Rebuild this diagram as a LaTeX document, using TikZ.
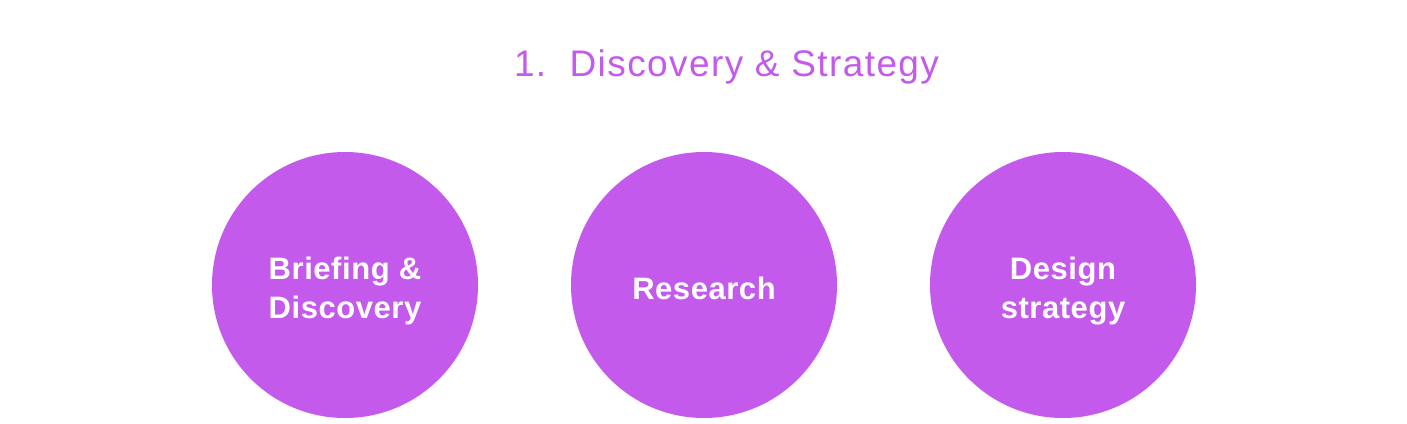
\documentclass[tikz,border=0pt]{standalone}
\usepackage{fontspec}
\setmainfont{Liberation Sans}
\newfontfamily\headfont[LetterSpace=3.8]{Liberation Sans}
\newfontfamily\stagefont[LetterSpace=1.8,BoldFont={Liberation Sans Bold}]{Liberation Sans}
\definecolor{purp}{HTML}{C45AEC}
\begin{document}
\begin{tikzpicture}[x=1pt,y=-1pt,
  stage/.style={circle,fill=purp,minimum size=266pt,inner sep=0pt},
  stagetext/.style={text=white,inner sep=0pt,
    font=\stagefont\bfseries\fontsize{31}{39.5}\selectfont,align=center},
  heading/.style={text=purp,font=\headfont\fontsize{37}{40}\selectfont,inner sep=0pt,anchor=base}]
\useasboundingbox (0,0) rectangle (1407,423);
\node[heading] (title) at (726.5,76) {1.\ \ Discovery \& Strategy};
\node[stage] (c1) at (345,285) {};
\node[stage] (c2) at (704,285) {};
\node[stage] (c3) at (1063,285) {};
\node[stagetext,anchor=base] (t2) at (c2.center |- 0,299.5) {Research};
\node[stagetext] (t1) at (345,291) {Briefing \&\\Discovery};
\node[stagetext] (t3) at (1063,291) {Design\\strategy};
\end{tikzpicture}
\end{document}
